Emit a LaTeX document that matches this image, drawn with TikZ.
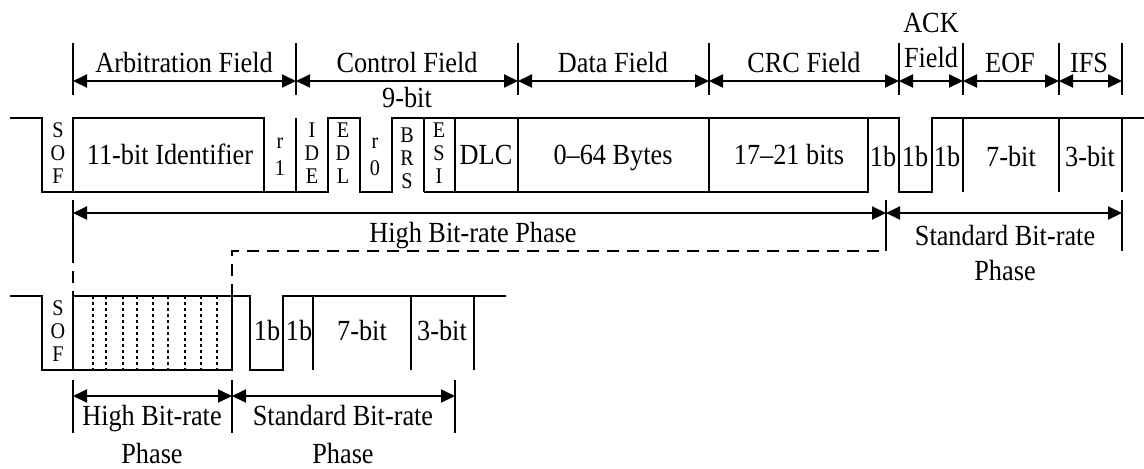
\documentclass[tikz,border=0pt]{standalone}
\usepackage{fontspec}
\setmainfont[FakeStretch=0.9]{Liberation Serif}
\usetikzlibrary{arrows.meta}
\tikzset{
  wave/.style={line width=1pt, line join=miter},
  tick/.style={line width=0.7pt},
  dim/.style={line width=1pt, {Triangle[length=7pt,width=6.5pt]}-{Triangle[length=7pt,width=6.5pt]}},
  lbl/.style={font=\fontsize{14.6}{17}\selectfont, inner sep=0pt, anchor=base},
  bits/.style={font=\fontsize{11.2}{11.5}\selectfont, align=center, inner sep=0pt},
  slots/.style={line width=0.6pt, dash pattern=on 1.5pt off 1.5pt},
  phase/.style={line width=0.8pt, dash pattern=on 6pt off 4pt}
}
\begin{document}
\begin{tikzpicture}[x=0.5pt, y=-0.5pt]
  \useasboundingbox (0,0) rectangle (1144,468);

  \coordinate (f0) at (73,81);
  \coordinate (f1) at (296,81);
  \coordinate (f2) at (518,81);
  \coordinate (f3) at (709,81);
  \coordinate (f4) at (899,81);
  \coordinate (f5) at (963,81);
  \coordinate (f6) at (1059,81);
  \coordinate (f7) at (1122,81);

  \draw[tick] (f0) ++(0,-38) -- ++(0,52) (f1) ++(0,-38) -- ++(0,52)
              (f2) ++(0,-38) -- ++(0,52) (f3) ++(0,-38) -- ++(0,52)
              (f4) ++(0,-38) -- ++(0,52) (f5) ++(0,-38) -- ++(0,52)
              (f6) ++(0,-38) -- ++(0,52) (f7) ++(0,-38) -- ++(0,52);
  \draw[dim] (f0) -- (f1);
  \draw[dim] (f1) -- (f2);
  \draw[dim] (f2) -- (f3);
  \draw[dim] (f3) -- (f4);
  \draw[dim] (f4) -- (f5);
  \draw[dim] (f5) -- (f6);
  \draw[dim] (f6) -- (f7);

  \node (arb) [lbl] at (184,72) {Arbitration Field};
  \node (ctl) [lbl] at (407,72) {Control Field};
  \node (data) [lbl] at (613,72) {Data Field};
  \node (crc) [lbl] at (804,72) {CRC Field};
  \node (ack) [lbl] at (931,32) {ACK};
  \node (ackf) [lbl] at (931,67) {Field};
  \node (eof) [lbl] at (1010,72) {EOF};
  \node (ifs) [lbl] at (1089,72) {IFS};
  \node (nine) [lbl] at (407,107) {9-bit};

  \draw[wave] (10,118) -- (42,118) -- (42,192) -- (328,192) -- (328,118)
              -- (360,118) -- (360,192) -- (392,192) -- (392,118) -- (899,118)
              -- (899,192) -- (932,192) -- (932,118) -- (1144,118);
  \draw[wave] (73,192) -- (73,118) -- (264,118) -- (264,192);
  \draw[wave] (424,192) -- (868,192) -- (868,118);
  \draw[wave] (296,118) -- (296,192) (424,118) -- (424,192)
              (455,118) -- (455,192) (518,118) -- (518,192)
              (709,118) -- (709,192) (963,118) -- (963,192)
              (1059,118) -- (1059,192) (1122,118) -- (1122,192);

  \node (sof) [bits] at (58,153) {S\\O\\F};
  \node (id) [lbl] at (170,164) {11-bit Identifier};
  \node (r1) [bits] at (280,157) {r\\[2pt]1};
  \node (ide) [bits] at (312,153) {I\\D\\E};
  \node (edl) [bits] at (343,153) {E\\D\\L};
  \node (r0) [bits] at (375,157) {r\\[2pt]0};
  \node (brs) [bits] at (407,158) {B\\R\\S};
  \node (esi) [bits] at (439,153) {E\\S\\I};
  \node (dlc) [lbl] at (486,164) {DLC};
  \node (bytes) [lbl] at (613,164) {0--64 Bytes};
  \node (crcb) [lbl] at (789,164) {17--21 bits};
  \node (del) [lbl] at (883,166) {1b};
  \node (slot) [lbl] at (915,166) {1b};
  \node (ackd) [lbl] at (947,166) {1b};
  \node (seven) [lbl] at (1011,166) {7-bit};
  \node (three) [lbl] at (1090,166) {3-bit};

  \coordinate (m0) at (73,213);
  \coordinate (m1) at (886,213);
  \coordinate (m2) at (1122,213);
  \draw[tick] (m0) ++(0,-13) -- ++(0,51) (m1) ++(0,-13) -- ++(0,51)
              (m2) ++(0,-13) -- ++(0,51);
  \draw[phase] (m0) ++(0,38) -- ++(0,45);
  \draw[phase] (232,296) -- (232,251) -- (886,251);
  \draw[dim] (m0) -- (m1);
  \draw[dim] (m1) -- (m2);
  \node (hbr) [lbl] at (473,242) {High Bit-rate Phase};
  \node (sbr) [lbl] at (1005,245) {Standard Bit-rate};
  \node (sbrp) [lbl] at ([yshift=-17.5pt]sbr.base) {Phase};

  \draw[wave] (10,296) -- (42,296) -- (42,370) -- (232,370) -- (232,296);
  \draw[wave] (73,370) -- (73,296) -- (250,296) -- (250,370) -- (283,370)
              -- (283,296) -- (506,296);
  \draw[wave] (313,296) -- (313,370) (411,296) -- (411,370)
              (474,296) -- (474,370);
  \draw[slots] (93,296) -- (93,370) (106,296) -- (106,370)
               (123,296) -- (123,370) (137,296) -- (137,370)
               (153,296) -- (153,370) (168,296) -- (168,370)
               (185,296) -- (185,370) (201,296) -- (201,370)
               (217,296) -- (217,370);

  \node (sof2) [bits] at (58,331) {S\\O\\F};
  \node (del2) [lbl] at (267,340) {1b};
  \node (ackd2) [lbl] at (299,340) {1b};
  \node (seven2) [lbl] at (362,340) {7-bit};
  \node (three2) [lbl] at (442,340) {3-bit};

  \coordinate (l0) at (73,396);
  \coordinate (l1) at (232,396);
  \coordinate (l2) at (455,396);
  \draw[tick] (l0) ++(0,-16) -- ++(0,53) (l1) ++(0,-16) -- ++(0,53)
              (l2) ++(0,-16) -- ++(0,53);
  \draw[dim] (l0) -- (l1);
  \draw[dim] (l1) -- (l2);
  \node (hbr2) [lbl] at (152,425) {High Bit-rate};
  \node (hbr2p) [lbl] at ([yshift=-19pt]hbr2.base) {Phase};
  \node (sbr2) [lbl] at (343,425) {Standard Bit-rate};
  \node (sbr2p) [lbl] at ([yshift=-19pt]sbr2.base) {Phase};
\end{tikzpicture}
\end{document}
